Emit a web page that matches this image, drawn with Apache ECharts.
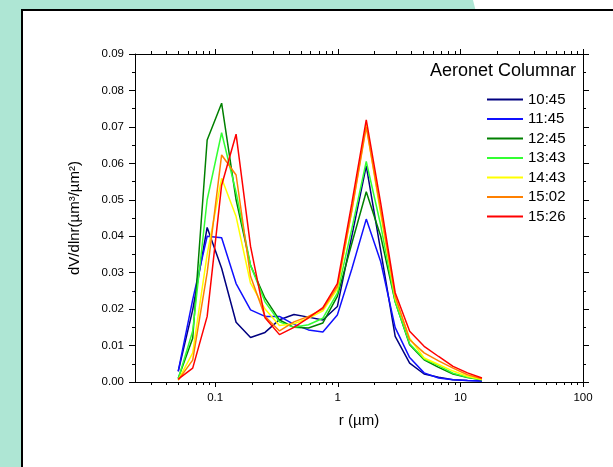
<!DOCTYPE html>
<html>
<head>
<meta charset="utf-8">
<script src="https://cdn.jsdelivr.net/npm/echarts@6/dist/echarts.min.js"></script>
<style>
  html, body { margin: 0; padding: 0; background: #aee6d4; overflow: hidden; }
  #topwhite { position: absolute; left: 473px; top: 0; width: 200px; height: 12px; background: #fff;
              clip-path: polygon(0 0, 100% 0, 100% 100%, 3px 100%); }
  #frame { position: absolute; left: 21px; top: 9px; width: 700px; height: 600px; background: #fff;
           border-left: 2.5px solid #000; border-top: 2.5px solid #000; box-sizing: border-box; }
  #chart { position: absolute; left: 0; top: 0; width: 613px; height: 467px; }
</style>
</head>
<body>
<div id="topwhite"></div>
<div id="frame"></div>
<div id="chart"></div>
<script>
// Radii (um) of the AERONET size bins
const radii = [0.050000, 0.065604, 0.086077, 0.112939, 0.148184, 0.194429, 0.255105, 0.334716, 0.439173, 0.576227, 0.756052,
               0.991996, 1.301571, 1.707757, 2.240702, 2.939966, 3.857452, 5.061260, 6.640745, 8.713145, 11.432287, 15.000000];
const seriesNames = ['10:45', '11:45', '12:45', '13:43', '14:43', '15:02', '15:26'];
const v1045 = [0.0029, 0.0198, 0.0424, 0.0312, 0.0164, 0.0122, 0.0136, 0.0171, 0.0185, 0.0178, 0.0170, 0.0207, 0.0400, 0.0593, 0.0360, 0.0125, 0.0052, 0.0022, 0.0013, 0.0006, 0.0004, 0.0003];
const v1145 = [0.0030, 0.0226, 0.0400, 0.0396, 0.0270, 0.0198, 0.0180, 0.0180, 0.0158, 0.0143, 0.0137, 0.0184, 0.0310, 0.0447, 0.0330, 0.0149, 0.0067, 0.0025, 0.0011, 0.0006, 0.0004, 0.0003];
const v1245 = [0.0010, 0.0120, 0.0664, 0.0765, 0.0500, 0.0320, 0.0230, 0.0170, 0.0150, 0.0148, 0.0162, 0.0235, 0.0380, 0.0522, 0.0400, 0.0220, 0.0102, 0.0061, 0.0040, 0.0022, 0.0012, 0.0006];
const v1343 = [0.0008, 0.0140, 0.0500, 0.0684, 0.0520, 0.0320, 0.0220, 0.0165, 0.0150, 0.0157, 0.0175, 0.0244, 0.0420, 0.0605, 0.0430, 0.0220, 0.0105, 0.0063, 0.0045, 0.0024, 0.0013, 0.0006];
const v1443 = [0.0005, 0.0080, 0.0350, 0.0559, 0.0454, 0.0271, 0.0200, 0.0155, 0.0160, 0.0175, 0.0195, 0.0255, 0.0470, 0.0705, 0.0460, 0.0230, 0.0120, 0.0066, 0.0048, 0.0030, 0.0016, 0.0007];
const v1502 = [0.0005, 0.0060, 0.0300, 0.0623, 0.0568, 0.0290, 0.0180, 0.0140, 0.0165, 0.0180, 0.0200, 0.0262, 0.0470, 0.0700, 0.0470, 0.0235, 0.0116, 0.0080, 0.0058, 0.0038, 0.0020, 0.0009];
const v1526 = [0.0008, 0.0038, 0.0180, 0.0540, 0.0680, 0.0372, 0.0176, 0.0130, 0.0150, 0.0176, 0.0204, 0.0270, 0.0490, 0.0719, 0.0490, 0.0245, 0.0139, 0.0098, 0.0070, 0.0043, 0.0025, 0.0011];
const seriesValues = [v1045, v1145, v1245, v1343, v1443, v1502, v1526];
const seriesColors = ['#000080', '#1010ff', '#008000', '#33ff33', '#ffff00', '#ff8000', '#ff0000'];
const xMajorTicks = [0.1, 1, 10, 100];
const xMinorTicks = [0.03, 0.04, 0.05, 0.06, 0.07, 0.08, 0.09, 0.2, 0.3, 0.4, 0.5, 0.6, 0.7, 0.8, 0.9,
                     2, 3, 4, 5, 6, 7, 8, 9, 20, 30, 40, 50, 60, 70, 80, 90];
const xMin = 0.0222, xMax = 100;
const yMin = 0, yMax = 0.09, yStep = 0.01;

const FONT = '"Liberation Sans", Arial, sans-serif';
const chart = echarts.init(document.getElementById('chart'), null, { renderer: 'canvas' });

function xAxisDef(position, major, showLabel, showName) {
  return {
    type: 'log', min: xMin, max: xMax, position: position, gridIndex: 0,
    name: showName ? 'r (\u00b5m)' : '', nameLocation: 'middle', nameGap: 31,
    nameTextStyle: { fontSize: 15, color: '#000', fontFamily: FONT },
    axisLine: { show: major, lineStyle: { color: '#000', width: 1 } },
    axisTick: { show: true, inside: false, length: major ? 5 : 3, customValues: major ? xMajorTicks : xMinorTicks,
                lineStyle: { color: '#000', width: 1 } },
    axisLabel: { show: showLabel, customValues: xMajorTicks, margin: 10, fontSize: 11.5, color: '#000', fontFamily: FONT,
                 formatter: v => String(v) },
    minorTick: { show: false },
    splitLine: { show: false }
  };
}

function yAxisDef(position, showLabel) {
  return {
    type: 'value', min: yMin, max: yMax, interval: yStep, position: position, gridIndex: 0,
    name: showLabel ? 'dV/dlnr(\u00b5m\u00b3/\u00b5m\u00b2)' : '', nameLocation: 'middle', nameGap: 53, nameRotate: 90,
    nameTextStyle: { fontSize: 15, color: '#000', fontFamily: FONT },
    axisLine: { show: true, lineStyle: { color: '#000', width: 1 } },
    axisTick: { show: true, inside: false, length: 6, lineStyle: { color: '#000', width: 1 } },
    minorTick: { show: true, splitNumber: 2, length: 3, lineStyle: { color: '#000', width: 1 } },
    axisLabel: { show: showLabel, margin: 11, fontSize: 11.5, color: '#000', fontFamily: FONT,
                 formatter: v => v.toFixed(2) },
    splitLine: { show: false }
  };
}

const option = {
  animation: false,
  backgroundColor: 'transparent',
  textStyle: { fontFamily: FONT },
  title: {
    text: 'Aeronet Columnar', right: 37, top: 62, padding: 0,
    textStyle: { fontSize: 18, fontWeight: 'normal', color: '#000', fontFamily: FONT }
  },
  legend: {
    data: seriesNames, orient: 'vertical', left: 487, top: 92, padding: 0,
    icon: 'rect', itemWidth: 36, itemHeight: 2, itemGap: 4.5,
    textStyle: { fontSize: 15, lineHeight: 15, color: '#000', fontFamily: FONT, padding: [0, 0, 0, 0] },
    selectedMode: false
  },
  grid: { left: 135, top: 54, right: 30, bottom: 85, containLabel: false },
  xAxis: [
    xAxisDef('bottom', true, true, true),
    xAxisDef('bottom', false, false, false),
    xAxisDef('top', true, false, false),
    xAxisDef('top', false, false, false)
  ],
  yAxis: [
    yAxisDef('left', true),
    yAxisDef('right', false)
  ],
  series: seriesNames.map((name, i) => ({
    name: name, type: 'line', xAxisIndex: 0, yAxisIndex: 0,
    data: radii.map((r, k) => [r, seriesValues[i][k]]),
    showSymbol: false, symbol: 'none',
    lineStyle: { color: seriesColors[i], width: 1.5 },
    itemStyle: { color: seriesColors[i] }
  }))
};
chart.setOption(option);
</script>
</body>
</html>
